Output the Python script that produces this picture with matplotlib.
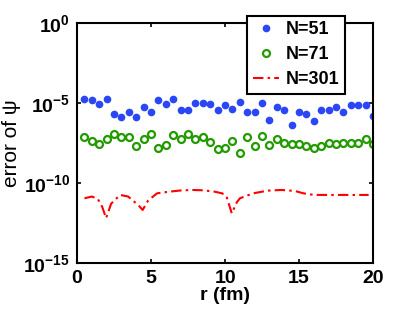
import matplotlib
matplotlib.use("Agg")
import matplotlib.pyplot as plt
import numpy as np

plt.rcParams["font.family"] = ["Liberation Sans", "DejaVu Sans"]
plt.rcParams["mathtext.fontset"] = "custom"
plt.rcParams["mathtext.rm"] = "Liberation Sans:bold"
plt.rcParams["mathtext.bf"] = "Liberation Sans:bold"
plt.rcParams["mathtext.it"] = "Liberation Sans:italic"

# --- data (log10 of error) ---
r_pts = np.arange(1, 41) * 0.5
log_n51 = [-4.77, -4.83, -5.04, -4.77, -5.69, -5.90, -5.58, -5.90, -5.23, -5.58,
           -4.79, -5.08, -4.75, -5.46, -5.46, -4.98, -4.98, -5.04, -5.46, -5.15,
           -5.37, -4.96, -5.54, -5.54, -5.02, -6.08, -5.23, -5.46, -6.38, -5.54,
           -5.71, -6.13, -5.46, -5.46, -5.25, -5.54, -5.15, -5.15, -5.15, -5.83]
log_n71 = [-7.10, -7.35, -7.56, -7.25, -6.96, -7.15, -7.10, -7.67, -7.25, -6.96,
           -7.83, -7.63, -7.00, -7.23, -6.94, -7.23, -7.15, -7.42, -7.88, -7.83,
           -7.35, -8.15, -7.10, -7.69, -7.08, -7.60, -7.25, -7.52, -7.58, -7.54,
           -7.69, -7.83, -7.69, -7.52, -7.54, -7.48, -7.48, -7.52, -7.25, -7.56]
r_301 = [0.5, 1.0, 1.4, 1.7, 1.96, 2.3, 2.9, 3.45, 3.9, 4.2, 4.43, 4.8, 5.4, 6.3,
         7.0, 7.8, 8.5, 9.26, 9.8, 10.1, 10.45, 10.8, 11.0, 11.9, 12.9, 13.8,
         14.7, 15.3, 16.0, 17.0, 18.0, 19.0, 19.7]
log_n301 = [-10.96, -10.85, -11.0, -11.5, -12.2, -11.3, -10.75, -10.85, -11.2,
            -11.45, -11.69, -11.1, -10.65, -10.54, -10.47, -10.44, -10.46, -10.54,
            -10.65, -10.85, -11.9, -11.2, -10.96, -10.65, -10.48, -10.44, -10.5,
            -10.65, -10.75, -10.75, -10.75, -10.75, -10.75]

fig = plt.figure(figsize=(4.10, 3.09), dpi=100)
ax = fig.add_axes([0.188, 0.149, 0.722, 0.777])

ax.semilogy(r_pts, 10.0 ** np.array(log_n51), ".", color="#2a46f5",
            markersize=9, label="N=51")
ax.semilogy(r_pts, 10.0 ** np.array(log_n71), "o", color="#229a00",
            markerfacecolor="none", markersize=5, markeredgewidth=1.6, label="N=71")
ax.semilogy(r_301, 10.0 ** np.array(log_n301), color="#ff0000",
            linestyle=(0, (5, 2, 1.2, 2)), linewidth=1.5, label="N=301")

ax.set_xlim(0, 20)
ax.set_ylim(1e-15, 1e0)
ax.set_xticks([0, 5, 10, 15, 20])
ax.set_yticks([1e-15, 1e-10, 1e-5, 1e0])
ax.set_yticklabels([r"$10^{-15}$", r"$10^{-10}$", r"$10^{-5}$", r"$10^{0}$"])
ax.minorticks_off()
ax.tick_params(direction="in", top=True, right=True, length=3, width=1.2,
               labelsize=14, pad=5)
for lab in ax.get_xticklabels():
    lab.set_fontweight("bold")
for s in ax.spines.values():
    s.set_linewidth(1.5)

ax.set_xlabel("r (fm)", fontsize=14, fontweight="bold", labelpad=0)
ax.set_ylabel("error of ψ", fontsize=15, labelpad=2)

leg = ax.legend(loc="upper right", bbox_to_anchor=(0.905, 1.03),
                prop={"size": 13, "weight": "bold"},
                frameon=True, fancybox=False, borderpad=0.3, handlelength=1.45,
                handletextpad=0.4, labelspacing=0.45, borderaxespad=0)
leg.get_frame().set_edgecolor("black")
leg.get_frame().set_linewidth(1.5)
leg.get_frame().set_alpha(1)

fig.savefig("out.png", dpi=100)
